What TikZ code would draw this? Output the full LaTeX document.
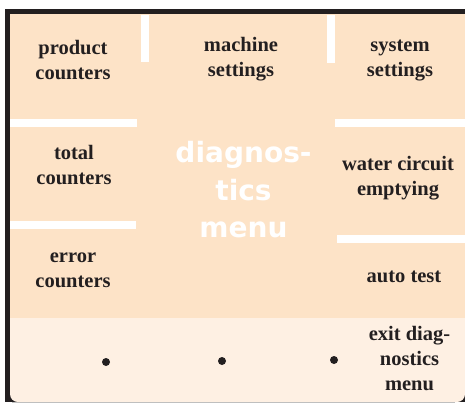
\documentclass[tikz,border=0pt]{standalone}
\usepackage{fontspec}
\setmainfont{Liberation Serif}
\newfontfamily\menufont{DejaVu Sans}
\usetikzlibrary{positioning}

\definecolor{screen}{RGB}{253,227,199}
\definecolor{screenlow}{RGB}{254,240,227}
\definecolor{ink}{RGB}{35,31,32}

\begin{document}
\begin{tikzpicture}[x=1pt, y=-1pt,
    item/.style={align=center, inner sep=0pt, text=ink,
      font=\bfseries\fontsize{20.5}{25}\selectfont},
    title/.style={align=center, inner sep=0pt, text=white,
      font=\menufont\bfseries\fontsize{28}{37.5}\selectfont}]
  \useasboundingbox (0,0) rectangle (465,404);

  % Frame and screen
  \fill[ink] (5,9) rectangle (465,402);
  \fill[screenlow, rounded corners=8pt] (10,300) rectangle (465,402);
  \fill[screen] (10,14) rectangle (465,318);
  \draw[gray!50, line width=0.8pt] (12,402.6) -- (455,402.6);

  % White separator bars
  \foreach \xa/\ya/\xb/\yb in {141/15/149/62, 327/15/335/63,
      10/119/137/127, 335/119/465/127, 10/221/136/229, 337/235/465/243} {
    \fill[white] (\xa,\ya) rectangle (\xb,\yb);
  }

  % Menu title
  \node[title] (menu) at (243.5,190) {diagnos-\\tics\\menu};

  % Menu entries
  \node[item] (prod)  at (73,60)    {product\\counters};
  \node[item] (mach)  at (241,59.5) {machine\\settings};
  \node[item] (sys)   at (400,60)   {system\\settings};
  \node[item] (total) at (74,165.5) {total\\counters};
  \node[item] (water) at (398,178)  {water circuit\\emptying};
  \node[item] (error) at (73,270)   {error\\counters};
  \node[item] (auto)  at (404,277)  {auto test};
  \node[item] (exit)  at (409.5,358.5) {exit diag-\\nostics\\menu};

  % Key marks
  \foreach \x/\y in {106/362, 222/361, 334/360} {
    \fill[ink] (\x,\y) circle (4pt);
  }
\end{tikzpicture}
\end{document}
